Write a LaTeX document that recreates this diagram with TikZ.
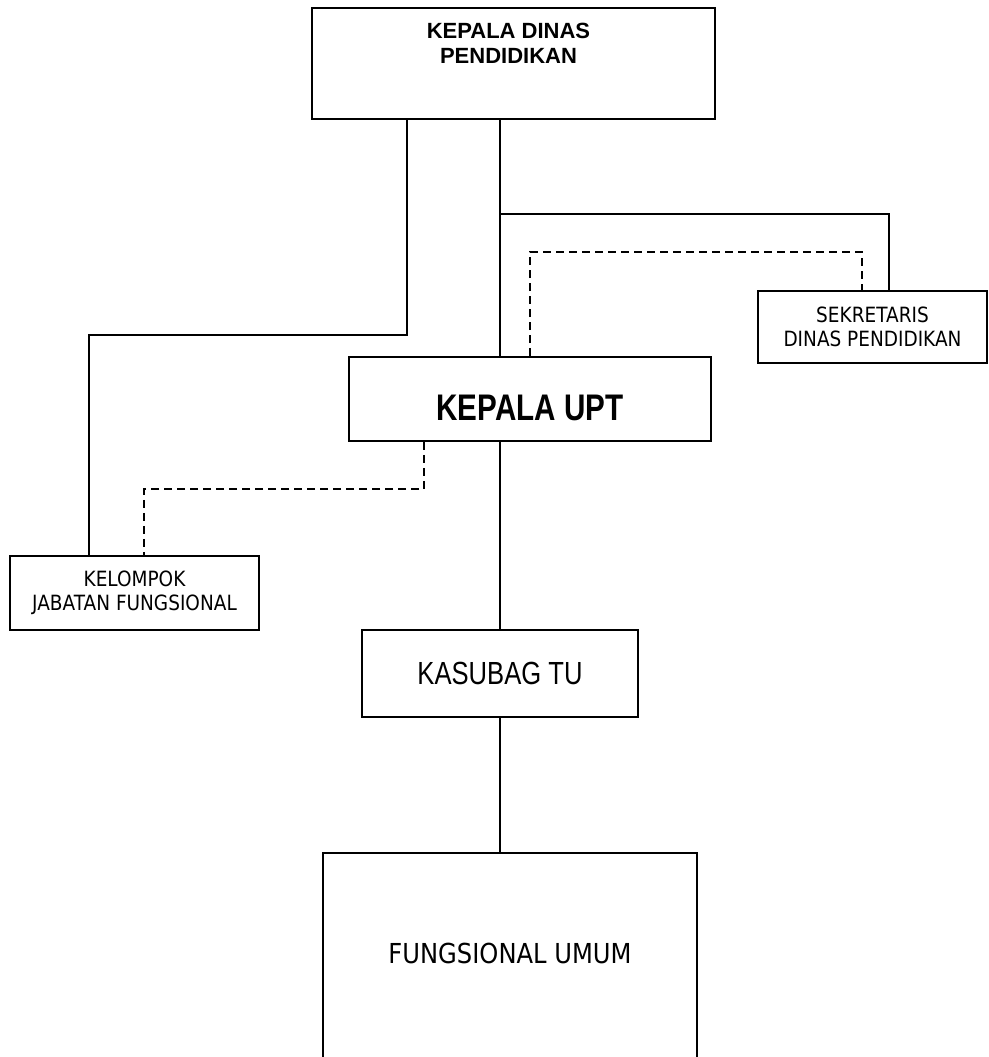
\documentclass[tikz,border=0pt]{standalone}
\usepackage{fontspec}
\setmainfont{Liberation Sans}
\newfontfamily\narrowfont[FakeStretch=0.8]{Liberation Sans}
\newfontfamily\tahomafont[FakeStretch=0.88]{DejaVu Sans}
\begin{document}
\begin{tikzpicture}
  [x=1pt,y=-1pt,
   box/.style={draw=black,line width=1.8pt,inner sep=0pt,align=center},
   line/.style={line width=1.3pt},
   dashline/.style={line width=1.3pt,dash pattern=on 8pt off 5pt}]
  \useasboundingbox (0,0) rectangle (988,1057);

  \node[box,minimum width=403pt,minimum height=111pt,
        label={[font=\bfseries\fontsize{22}{25}\selectfont,align=center,
                inner sep=0pt,anchor=north,yshift=-16pt,xshift=-5pt]north:KEPALA DINAS\\PENDIDIKAN}]
        (kadis) at (513.5,63.5) {};
  \node[box,minimum width=229pt,minimum height=72pt,font=\tahomafont\fontsize{21}{24}\selectfont]
        (sekre) at (872.5,327) {SEKRETARIS\\DINAS PENDIDIKAN};
  \node[box,minimum width=362pt,minimum height=84pt,text height=44pt,
        font=\narrowfont\bfseries\fontsize{37}{40}\selectfont]
        (upt) at (530,399) {KEPALA UPT};
  \node[box,minimum width=249pt,minimum height=74pt,font=\tahomafont\fontsize{21}{24}\selectfont]
        (kjf) at (134.5,593) {KELOMPOK\\JABATAN FUNGSIONAL};
  \node[box,minimum width=276pt,minimum height=87pt,font=\narrowfont\fontsize{32}{36}\selectfont]
        (tu) at (500,673.5) {KASUBAG TU};
  \node[box,minimum width=374pt,minimum height=209pt,text height=12pt,
        font=\tahomafont\fontsize{27.5}{32}\selectfont]
        (umum) at (510,957.5) {FUNGSIONAL UMUM};

  \coordinate (cab) at (500,214);

  % garis komando
  \draw[line] (kadis.south -| tu.north) -- (upt.north -| tu.north);
  \draw[line] (upt.south -| tu.north) -- (tu.north);
  \draw[line] (tu.south) -- (tu.south |- umum.north);
  \draw[line] ([xshift=-106.5pt]kadis.south) -- ++(0,215) -| ([xshift=-45.5pt]kjf.north);
  \draw[line] (cab) -| ([xshift=16.5pt]sekre.north);

  % garis koordinasi
  \draw[dashline] (upt.north) -- ++(0,-104) -| ([xshift=-10.5pt]sekre.north);
  \draw[dashline] ([xshift=-106pt]upt.south) -- ++(0,47) -| ([xshift=9.5pt]kjf.north);

\end{tikzpicture}
\end{document}
